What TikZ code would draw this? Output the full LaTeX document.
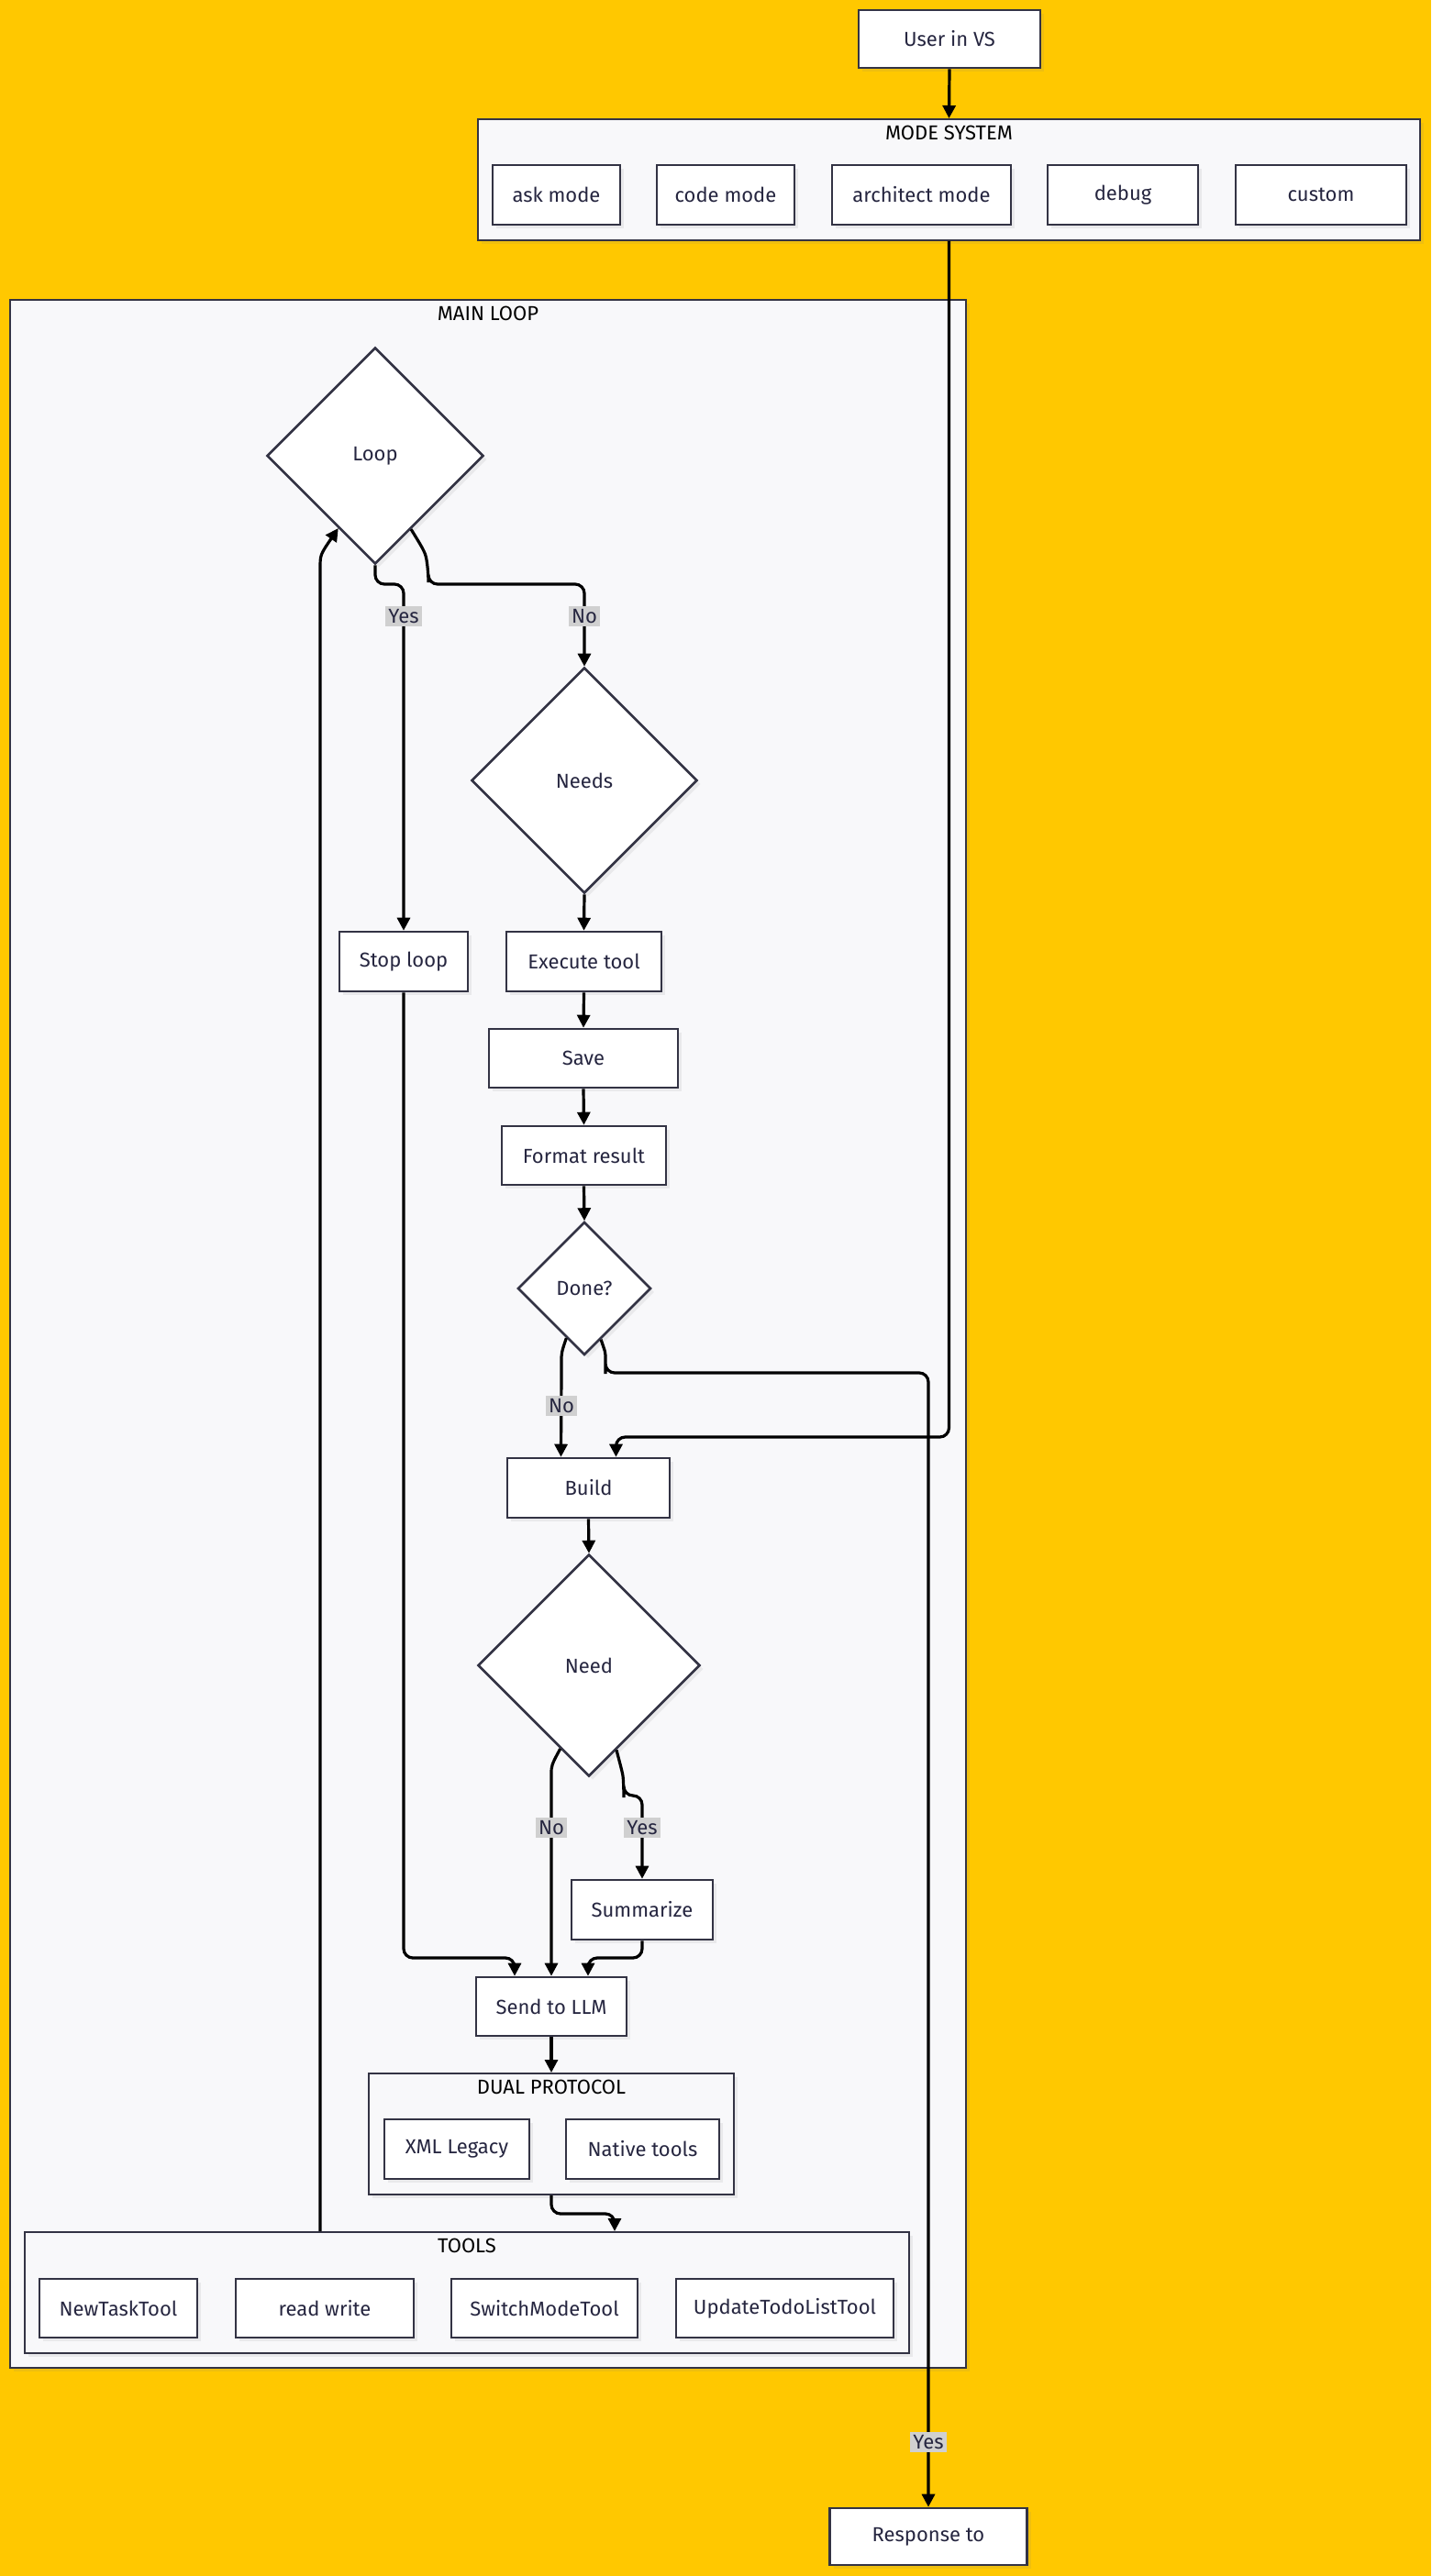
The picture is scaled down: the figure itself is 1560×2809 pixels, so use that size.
\documentclass[tikz,border=0pt]{standalone}
\usepackage{fontspec}
\setmainfont{Fira Sans}
\usetikzlibrary{shapes.geometric,arrows.meta,shadows}

\definecolor{bgyellow}{RGB}{255,200,0}
\definecolor{clusterfill}{RGB}{248,248,250}
\definecolor{boxline}{RGB}{51,51,68}
\definecolor{textnavy}{RGB}{38,38,64}
\definecolor{lblgray}{RGB}{208,208,208}

\tikzset{
  box/.style={draw=boxline, line width=1.3pt, fill=white, text=textnavy, inner sep=0pt,
    drop shadow={opacity=0.12, shadow xshift=2pt, shadow yshift=-2pt}},
  cond/.style={box, diamond, aspect=1},
  cluster/.style={draw=boxline, line width=1pt, fill=clusterfill, inner sep=0pt,
    drop shadow={opacity=0.12, shadow xshift=2pt, shadow yshift=-2pt}},
  ctitle/.style={inner sep=0pt, text=black},
  flow/.style={line width=1.6pt, -{Triangle[length=7pt,width=7pt]}, rounded corners=5pt},
  lbl/.style={fill=lblgray, text=textnavy, inner sep=1.5pt},
}

\begin{document}
\begin{tikzpicture}[x=0.5pt,y=0.5pt,yscale=-1,xscale=1,font=\fontsize{11}{13}\selectfont]
        \fill[bgyellow] (0,0) rectangle (1560,2809);

        % clusters
        \node[cluster, minimum width=513.5pt, minimum height=66pt] (modesys) at (1034.5,196) {};
        \node[ctitle] (modetitle) at (1034.5,145) {MODE SYSTEM};
        \node[cluster, minimum width=521pt, minimum height=1127.5pt] (mainloop) at (532,1454.5) {};
        \node[ctitle] (maintitle) at (532,342) {MAIN LOOP};
        \node[cluster, minimum width=199pt, minimum height=66pt] (dual) at (601,2327) {};
        \node[ctitle] (dualtitle) at (601,2276) {DUAL PROTOCOL};
        \node[cluster, minimum width=482pt, minimum height=66pt] (tools) at (509,2500) {};
        \node[ctitle] (toolstitle) at (509,2449) {TOOLS};

        % top
        \node[box, minimum width=99pt, minimum height=31.5pt] (user) at (1035,42.5) {User in VS};
        \node[box, minimum width=69.5pt, minimum height=32.5pt] (ask) at (606.5,212.5) {ask mode};
        \node[box, minimum width=75pt, minimum height=32.5pt] (code) at (791,212.5) {code mode};
        \node[box, minimum width=97.5pt, minimum height=32.5pt] (arch) at (1004.5,212.5) {architect mode};
        \node[box, minimum width=82pt, minimum height=32.5pt] (debug) at (1224,212.5) {debug};
        \node[box, minimum width=93pt, minimum height=32.5pt] (custom) at (1440,212.5) {custom};

        % main loop
        \node[cond, minimum width=118pt, minimum height=118pt] (loop) at (409,497) {Loop};
        \node[cond, minimum width=123pt, minimum height=123pt] (needs) at (637,851) {Needs};
        \node[box, minimum width=70pt, minimum height=32.5pt] (stop) at (440,1048.5) {Stop loop};
        \node[box, minimum width=84.5pt, minimum height=32.5pt] (exec) at (636.5,1048.5) {Execute tool};
        \node[box, minimum width=103pt, minimum height=32pt] (save) at (636,1154) {Save};
        \node[box, minimum width=89.5pt, minimum height=32pt] (format) at (636.5,1260) {Format result};
        \node[cond, minimum width=72.5pt, minimum height=72.5pt] (done) at (637,1405) {Done?};
        \node[box, minimum width=88.5pt, minimum height=32.5pt] (build) at (641.5,1622.5) {Build};
        \node[cond, minimum width=121pt, minimum height=121pt] (need) at (642,1816) {Need};
        \node[box, minimum width=77pt, minimum height=32.5pt] (summ) at (700,2082.5) {Summarize};
        \node[box, minimum width=82pt, minimum height=32pt] (send) at (601,2188) {Send to LLM};
        \node[box, minimum width=79pt, minimum height=32.5pt] (xml) at (498,2343.5) {XML Legacy};
        \node[box, minimum width=83.5pt, minimum height=32.5pt] (native) at (700.5,2343.5) {Native tools};
        \node[box, minimum width=86pt, minimum height=32pt] (newtask) at (129,2517) {NewTaskTool};
        \node[box, minimum width=97pt, minimum height=32pt] (rw) at (354,2517) {read write};
        \node[box, minimum width=101.5pt, minimum height=32pt] (switch) at (593.5,2517) {SwitchModeTool};
        \node[box, minimum width=118.5pt, minimum height=32pt] (update) at (855.5,2517) {UpdateTodoListTool};
        \node[box, minimum width=107.5pt, minimum height=31pt] (resp) at (1012,2766) {Response to};

        % connectors
        \draw[flow] (user.south) -- (modesys.north);
        \draw[flow] (modesys.south) -- (1034.5,1567) -| ([xshift=15pt]build.north);
        \draw[flow] (loop.south) -- (409,637) -| (stop.north);
        \draw[flow] (loop.-64) .. controls (464,603) .. (467,625) -- (467,637) -| (needs.north);
        \draw[flow] (needs.south) -- (exec.north);
        \draw[flow] (exec.south) -- (save.north);
        \draw[flow] (save.south) -- (format.north);
        \draw[flow] (format.south) -- (done.north);
        \draw[flow] (done.-110) .. controls (612,1475) .. (612,1495) -- ([xshift=-15pt]build.north);
        \draw[flow] (done.-72) .. controls (660,1475) .. (660,1488) -- (660,1497) -| (resp.north);
        \draw[flow] (build.south) -- (need.north);
        \draw[flow] (need.-109) .. controls (601,1925) .. (601,1945) -- (send.north);
        \draw[flow] (need.-72) .. controls (679,1935) .. (680,1950) -- (680,1958) -| (summ.north);
        \draw[flow] (stop.south) -- (440,2135) -| ([xshift=-20pt]send.north);
        \draw[flow] (summ.south) -- (700,2135) -| ([xshift=20pt]send.north);
        \draw[flow] (send.south) -- (dual.north);
        \draw[flow] (dual.south) -- (601,2414) -| ([xshift=80.5pt]tools.north);
        \draw[flow] ([xshift=-80pt]tools.north) -- (349,630) .. controls (349,605) .. (loop.-117);

        % edge labels
        \node[lbl] (yesloop) at (440,672) {Yes};
        \node[lbl] (noloop) at (637,672) {No};
        \node[lbl] (nodone) at (612,1533) {No};
        \node[lbl] (yesdone) at (1012,2663) {Yes};
        \node[lbl] (noneed) at (601,1993) {No};
        \node[lbl] (yesneed) at (700,1993) {Yes};
\end{tikzpicture}
\end{document}
